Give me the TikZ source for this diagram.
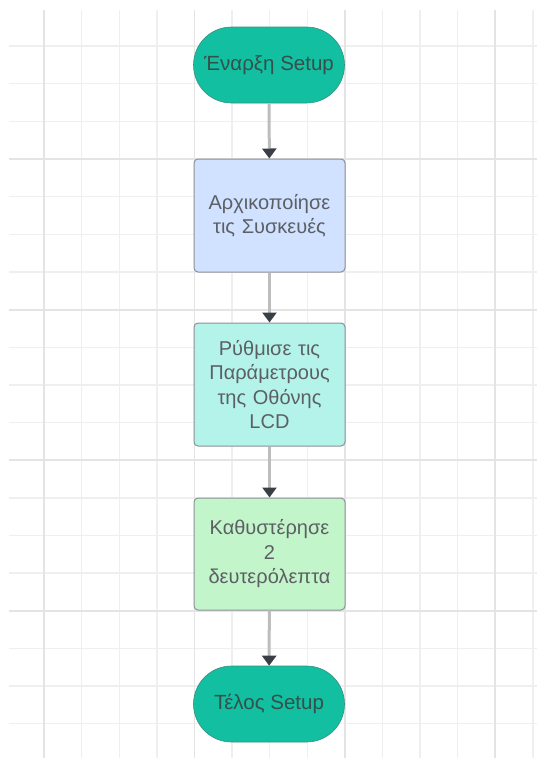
\documentclass[tikz,border=0pt]{standalone}
\usepackage{fontspec}
\setmainfont{Liberation Sans}
\usetikzlibrary{shapes.misc,arrows.meta}
\definecolor{gridminor}{HTML}{EFEFEF}
\definecolor{gridmajor}{HTML}{E4E4E4}
\definecolor{teal1}{HTML}{12BFA0}
\definecolor{teal2}{HTML}{3A8F80}
\definecolor{blue1}{HTML}{D0E2FF}
\definecolor{aqua1}{HTML}{B4F3EA}
\definecolor{green1}{HTML}{C3F5CB}
\definecolor{border1}{HTML}{8C9098}
\definecolor{txtdark}{HTML}{34504B}
\definecolor{txtgray}{HTML}{5C5F63}
\definecolor{linegray}{HTML}{BDBDBD}
\definecolor{headdark}{HTML}{3A3F47}
\tikzset{
  minorline/.style={draw=gridminor,line width=1.4pt},
  majorline/.style={draw=gridmajor,line width=1.8pt},
  terminal/.style={rounded rectangle,fill=teal1,draw=teal2,line width=0.6pt,
    minimum width=151pt,minimum height=76pt,text=txtdark,font=\fontsize{20.5}{24}\selectfont,inner sep=0pt},
  procbox/.style={rectangle,rounded corners=4pt,draw=border1,line width=1pt,
    minimum width=151pt,text width=142pt,align=center,text=txtgray,
    font=\fontsize{20}{24.5}\selectfont,inner sep=0pt},
  flow/.style={draw=linegray,line width=3pt,
    -{Triangle[length=10pt,width=14pt,color=headdark]}},
}
\begin{document}
\begin{tikzpicture}[x=1pt,y=-1pt]
\useasboundingbox (0,0) rectangle (537,758);
\fill[white] (0,0) rectangle (537,758);
% grid
\foreach \k in {0,...,13} {\draw[minorline] (44+37.6*\k,10) -- (44+37.6*\k,758);}
\foreach \k in {-3,...,15} {\draw[minorline] (9,159+37.65*\k) -- (537,159+37.65*\k);}
\foreach \k in {0,...,3} {\draw[majorline] (44+150.4*\k,10) -- (44+150.4*\k,758);}
\foreach \k in {0,...,3} {\draw[majorline] (9,159+150.6*\k) -- (537,159+150.6*\k);}
% nodes
\node[terminal] (start) at (269,65) {Έναρξη Setup};
\node[procbox,fill=blue1,minimum height=113pt] (init) at (269.5,215.5) {Αρχικοποίησε\\τις Συσκευές};
\node[procbox,fill=aqua1,minimum height=123pt] (lcd) at (269.5,384.5) {Ρύθμισε τις\\Παράμετρους\\της Οθόνης\\LCD};
\node[procbox,fill=green1,minimum height=112pt] (delay) at (269.5,554) {Καθυστέρησε\\2\\δευτερόλεπτα};
\node[terminal] (end) at (269,704) {Τέλος Setup};
% connectors
\draw[flow] (start) -- (init);
\draw[flow] (init) -- (lcd);
\draw[flow] (lcd) -- (delay);
\draw[flow] (delay) -- (end);
\end{tikzpicture}
\end{document}
